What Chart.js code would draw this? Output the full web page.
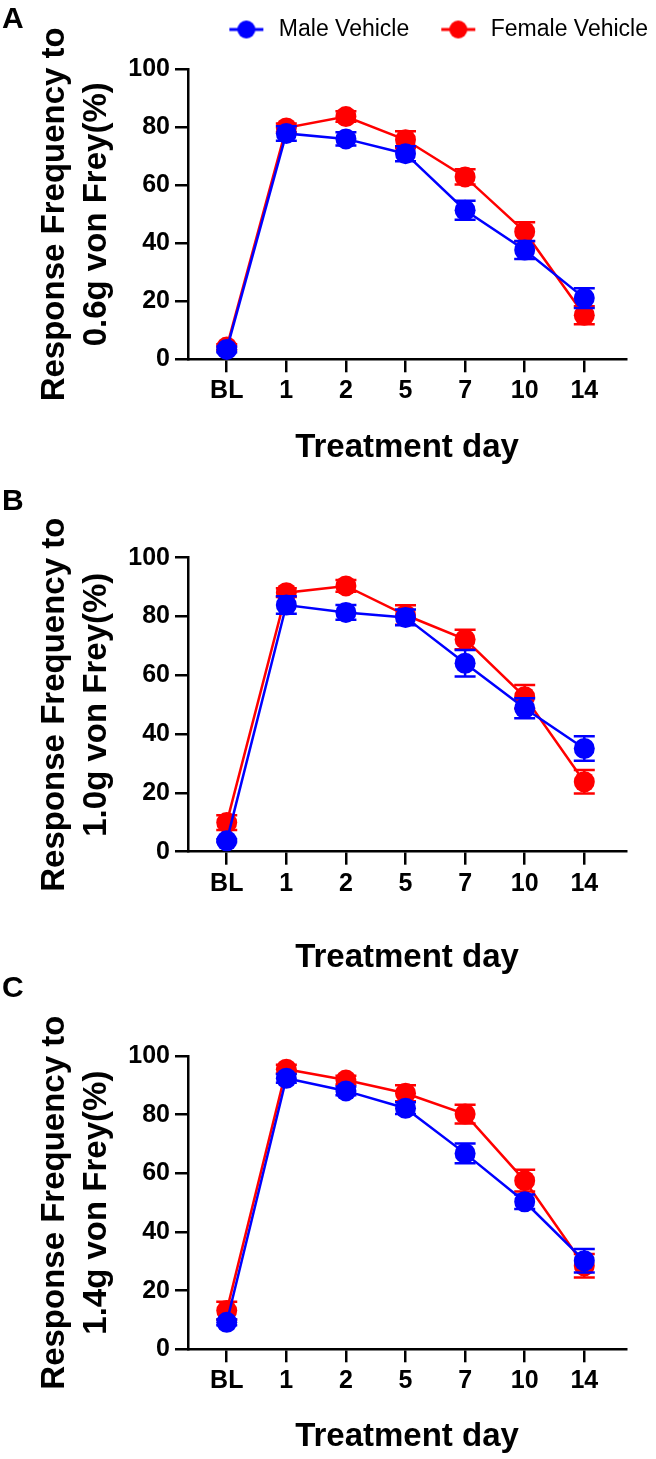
<!DOCTYPE html>
<html>
<head>
<meta charset="utf-8">
<script src="https://cdn.jsdelivr.net/npm/chart.js@4.4.1/dist/chart.umd.min.js"></script>
<style>
  body { margin: 0; background: #fff; }
  #page { position: relative; width: 656px; height: 1459px; overflow: hidden; background: #fff; }
  canvas { position: absolute; left: 0; }
  .tag { position: absolute; left: 2px; z-index: 2; font: bold 30px 'Liberation Sans', Arial, sans-serif; line-height: 30px; }
</style>
</head>
<body>
<div id="page">
  <div class="tag" style="top:3px">A</div>
  <div class="tag" style="top:485px">B</div>
  <div class="tag" style="top:972px">C</div>
  <canvas id="chartA" width="656" height="468" style="top:0px"></canvas>
  <canvas id="chartB" width="656" height="508" style="top:470px"></canvas>
  <canvas id="chartC" width="656" height="479" style="top:978px"></canvas>
</div>
<script>
const days = ['BL', '1', '2', '5', '7', '10', '14'];
const seriesNames = ['Male Vehicle', 'Female Vehicle'];
const seriesColors = ['#0000ff', '#ff0000'];

// 0.6g von Frey
const maleA = [3.4, 77.9, 76.0, 70.9, 51.4, 37.7, 21.1];
const maleErrA = [1.0, 2.5, 2.3, 2.6, 3.3, 3.1, 3.4];
const femaleA = [4.2, 79.8, 83.7, 75.7, 62.9, 44.0, 15.2];
const femaleErrA = [1.0, 1.5, 1.8, 2.9, 2.6, 3.3, 3.1];

// 1.0g von Frey
const maleB = [3.7, 83.9, 81.4, 79.7, 64.1, 48.8, 35.1];
const maleErrB = [0.5, 3.0, 2.5, 2.7, 4.5, 3.4, 4.2];
const femaleB = [9.9, 88.1, 90.4, 80.5, 72.2, 52.7, 23.8];
const femaleErrB = [2.5, 1.5, 2.0, 3.3, 3.3, 4.0, 4.0];

// 1.4g von Frey
const maleC = [9.2, 92.4, 88.1, 82.2, 66.8, 50.3, 30.2];
const maleErrC = [1.0, 1.5, 1.5, 2.0, 3.4, 2.5, 4.0];
const femaleC = [13.2, 95.5, 91.8, 87.3, 80.2, 57.5, 28.5];
const femaleErrC = [3.0, 1.5, 1.5, 2.7, 3.2, 3.7, 4.0];

const yTicks = { min: 0, max: 100, step: 20 };

const FONT = "'Liberation Sans', Arial, sans-serif";
Chart.defaults.font.family = FONT;
Chart.defaults.color = '#000';

// error bars drawn under each dataset's own line and markers
const errorBars = {
  id: 'errorBars',
  beforeDatasetDraw(chart, args) {
    const ds = chart.data.datasets[args.index];
    if (!ds.errors) return;
    const { ctx } = chart;
    const y = chart.scales.y;
    ctx.save();
    ctx.strokeStyle = ds.borderColor;
    ctx.lineWidth = 2.5;
    args.meta.data.forEach((pt, i) => {
      const v = ds.data[i].y;
      const hi = y.getPixelForValue(v + ds.errors[i]);
      const lo = y.getPixelForValue(v - ds.errors[i]);
      ctx.beginPath();
      ctx.moveTo(pt.x, hi); ctx.lineTo(pt.x, lo);
      ctx.moveTo(pt.x - 10.5, hi); ctx.lineTo(pt.x + 10.5, hi);
      ctx.moveTo(pt.x - 10.5, lo); ctx.lineTo(pt.x + 10.5, lo);
      ctx.stroke();
    });
    ctx.restore();
  }
};

const legendIcon = (color) => {
  const c = document.createElement('canvas');
  c.width = 62;
  c.height = 22;
  const g = c.getContext('2d');
  g.strokeStyle = color;
  g.lineWidth = 3;
  g.beginPath(); g.moveTo(24, 11); g.lineTo(58, 11); g.stroke();
  g.fillStyle = color;
  g.beginPath(); g.arc(41, 11, 9, 0, Math.PI * 2); g.fill();
  return c;
};
const icons = seriesColors.map(legendIcon);

const toPoints = (values) => values.map((v, i) => ({ x: i, y: v }));

const makeDataset = (k, values, errors) => ({
  label: seriesNames[k],
  data: toPoints(values),
  errors: errors,
  borderColor: seriesColors[k],
  backgroundColor: seriesColors[k],
  borderWidth: 2.5,
  pointRadius: 10.5,
  pointHoverRadius: 10.5,
  pointBorderWidth: 0,
  tension: 0,
  clip: false
});

const panels = [
  { id: 'chartA', top: 0, height: 468, areaTop: 69.3, areaBottom: 359.3, force: '0.6g',
    male: maleA, maleErr: maleErrA, female: femaleA, femaleErr: femaleErrA, legend: true },
  { id: 'chartB', top: 470, height: 508, areaTop: 557.7, areaBottom: 851.7, force: '1.0g',
    male: maleB, maleErr: maleErrB, female: femaleB, femaleErr: femaleErrB, legend: false },
  { id: 'chartC', top: 978, height: 479, areaTop: 1056, areaBottom: 1349.3, force: '1.4g',
    male: maleC, maleErr: maleErrC, female: femaleC, femaleErr: femaleErrC, legend: false }
];

const buildChart = (p) => {
  const xHeight = p.top + p.height - p.areaBottom;
  // legend row: padding 10 + legend box 41, spacer fills the rest down to the plot
  const padTop = p.legend ? 10 : p.areaTop - p.top;
  const spacer = p.areaTop - p.top - 10 - 41;

  new Chart(document.getElementById(p.id), {
    type: 'line',
    data: {
      datasets: [
        makeDataset(0, p.male, p.maleErr),
        makeDataset(1, p.female, p.femaleErr)
      ]
    },
    options: {
      responsive: false,
      animation: false,
      devicePixelRatio: 1,
      layout: { padding: { top: padTop, left: 0, right: 0, bottom: 0 } },
      plugins: {
        tooltip: { enabled: false },
        legend: {
          display: p.legend,
          position: 'top',
          align: 'end',
          labels: {
            usePointStyle: true,
            pointStyleWidth: 62,
            padding: 8,
            color: '#000',
            font: { size: 23, family: FONT },
            generateLabels: (chart) => Chart.defaults.plugins.legend.labels.generateLabels(chart)
              .map((item, i) => ({ ...item, pointStyle: icons[i] }))
          }
        },
        title: {
          display: p.legend,
          text: '',
          weight: 500,
          font: { size: 10, lineHeight: 1 },
          padding: { top: 0, bottom: spacer - 10 }
        }
      },
      scales: {
        x: {
          type: 'linear',
          min: -0.65,
          max: 6.7,
          afterFit: (s) => { s.height = xHeight; },
          grid: { drawOnChartArea: false, color: '#000', lineWidth: 2.5, tickLength: 13 },
          border: { display: true, color: '#000', width: 2.5 },
          ticks: {
            stepSize: 1,
            includeBounds: false,
            autoSkip: false,
            maxRotation: 0,
            padding: 4,
            color: '#000',
            font: { size: 25, weight: 'bold', family: FONT },
            callback: (v) => (Number.isInteger(v) && days[v] !== undefined ? days[v] : '')
          },
          title: {
            display: true,
            text: 'Treatment day',
            color: '#000',
            padding: 0,
            font: { size: 33, weight: 'bold', family: FONT, lineHeight: 1.2 }
          }
        },
        y: {
          min: yTicks.min,
          max: yTicks.max,
          afterFit: (s) => { s.width = 188; },
          grid: { drawOnChartArea: false, color: '#000', lineWidth: 2.5, tickLength: 13 },
          border: { display: true, color: '#000', width: 2.5 },
          ticks: {
            stepSize: yTicks.step,
            padding: 5,
            color: '#000',
            font: { size: 25, weight: 'bold', family: FONT }
          },
          title: {
            display: true,
            text: ['Response Frequency to', p.force + ' von Frey(%)'],
            color: '#000',
            padding: { top: 34, bottom: 0 },
            font: { size: 33, weight: 'bold', family: FONT, lineHeight: 1.27 }
          }
        },
        // empty right-hand gutter so the plot stops short of the page edge
        gutter: {
          type: 'linear',
          position: 'right',
          afterFit: (s) => { s.width = 30; },
          grid: { display: false, drawTicks: false },
          border: { display: false },
          ticks: { display: false }
        }
      }
    },
    plugins: [errorBars]
  });
};

window.onload = () => {
  panels.forEach(buildChart);
};
</script>
</body>
</html>
